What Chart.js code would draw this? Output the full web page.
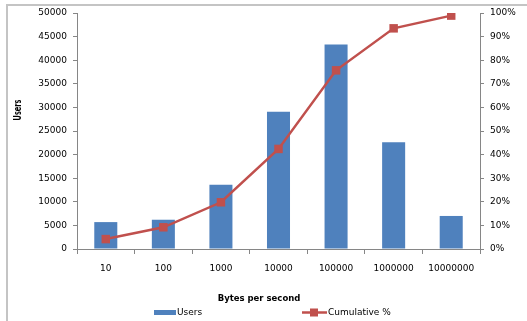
<!DOCTYPE html>
<html>
<head>
<meta charset="utf-8">
<script src="https://cdn.jsdelivr.net/npm/chart.js@4/dist/chart.umd.min.js"></script>
<style>
  html, body { margin: 0; padding: 0; background: #fff; }
  #wrap { width: 527px; height: 321px; position: relative; }
</style>
</head>
<body>
<div id="wrap"><canvas id="c" width="527" height="321"></canvas></div>
<script>
// Download speed distribution
const categories = ['10', '100', '1000', '10000', '100000', '1000000', '10000000'];
const users = [5700, 6200, 13600, 29100, 43300, 22600, 7000];
const cumulativePct = [4.2, 9.2, 19.8, 42.4, 75.7, 93.5, 98.9];
const xTitle = 'Bytes per second';
const yTitle = 'Users';
const seriesNames = ['Users', 'Cumulative %'];

const BAR_BLUE = '#4F81BD';
const LINE_RED = '#C0504D';
const AXIS_GREY = '#868686';
const FONT = 'DejaVu Sans';

// Frame, axis titles and the bottom legend
const decorations = {
  id: 'decorations',
  afterDraw(chart) {
    const ctx = chart.ctx;
    ctx.save();

    // outer frame (top and left edges)
    ctx.strokeStyle = '#C4C4C4';
    ctx.lineWidth = 2;
    ctx.beginPath();
    ctx.moveTo(7, chart.height);
    ctx.lineTo(7, 5);
    ctx.lineTo(chart.width, 5);
    ctx.stroke();

    ctx.fillStyle = '#000';
    ctx.textBaseline = 'middle';

    // x axis title
    ctx.font = 'bold 8.5px ' + FONT;
    ctx.textAlign = 'center';
    ctx.fillText(xTitle, 259, 298.5);

    // y axis title (rotated, narrowed along its length)
    ctx.save();
    ctx.translate(18, 110);
    ctx.rotate(-Math.PI / 2);
    ctx.scale(0.66, 1);
    ctx.font = 'bold 10px ' + FONT;
    ctx.fillText(yTitle, 0, 0);
    ctx.restore();

    // legend
    const barDs = chart.data.datasets.find(d => d.type === 'bar');
    const lineDs = chart.data.datasets.find(d => d.type === 'line');
    const ly = 312.5;
    ctx.font = '9px ' + FONT;
    ctx.textAlign = 'left';
    ctx.fillStyle = barDs.backgroundColor;
    ctx.fillRect(154, ly - 2.5, 22, 5);
    ctx.fillStyle = '#000';
    ctx.fillText(barDs.label, 177, ly);

    ctx.strokeStyle = lineDs.borderColor;
    ctx.lineWidth = 2.5;
    ctx.beginPath();
    ctx.moveTo(302, ly);
    ctx.lineTo(327, ly);
    ctx.stroke();
    ctx.fillStyle = lineDs.pointBackgroundColor;
    ctx.fillRect(310, ly - 4, 8, 8);
    ctx.fillStyle = '#000';
    ctx.fillText(lineDs.label, 328, ly);

    ctx.restore();
  }
};

new Chart(document.getElementById('c'), {
  data: {
    labels: categories,
    datasets: [
      {
        type: 'line',
        label: seriesNames[1],
        data: cumulativePct,
        yAxisID: 'y1',
        borderColor: LINE_RED,
        borderWidth: 2.5,
        pointStyle: 'rect',
        pointRadius: 6,
        pointBorderWidth: 0,
        pointBackgroundColor: LINE_RED,
        pointBorderColor: LINE_RED,
        tension: 0,
        order: 1
      },
      {
        type: 'bar',
        label: seriesNames[0],
        data: users,
        yAxisID: 'y',
        backgroundColor: BAR_BLUE,
        borderWidth: 0,
        barPercentage: 0.4,
        categoryPercentage: 1.0,
        order: 2
      }
    ]
  },
  options: {
    responsive: false,
    animation: false,
    layout: { padding: { top: 13, left: 0, right: 0, bottom: 0 } },
    plugins: {
      legend: { display: false },
      tooltip: { enabled: false }
    },
    scales: {
      x: {
        offset: true,
        grid: { display: true, drawOnChartArea: false, offset: true, tickLength: 5, color: AXIS_GREY },
        border: { color: AXIS_GREY },
        ticks: { padding: 9, color: '#000', font: { family: FONT, size: 9 }, maxRotation: 0 },
        afterFit(s) { s.height = 72; }
      },
      y: {
        position: 'left',
        min: 0,
        max: 50000,
        grid: { drawOnChartArea: false, tickLength: 4, color: AXIS_GREY },
        border: { color: AXIS_GREY },
        ticks: { stepSize: 5000, padding: 6, color: '#000', font: { family: FONT, size: 9 },
                 callback: v => String(v) },
        afterFit(s) { s.width = 77; }
      },
      y1: {
        position: 'right',
        min: 0,
        max: 100,
        grid: { drawOnChartArea: false, tickLength: 4, color: AXIS_GREY },
        border: { color: AXIS_GREY },
        ticks: { stepSize: 10, padding: 6, color: '#000', font: { family: FONT, size: 9 },
                 callback: v => v + '%' },
        afterFit(s) { s.width = 47; }
      }
    }
  },
  plugins: [decorations]
});
</script>
</body>
</html>
